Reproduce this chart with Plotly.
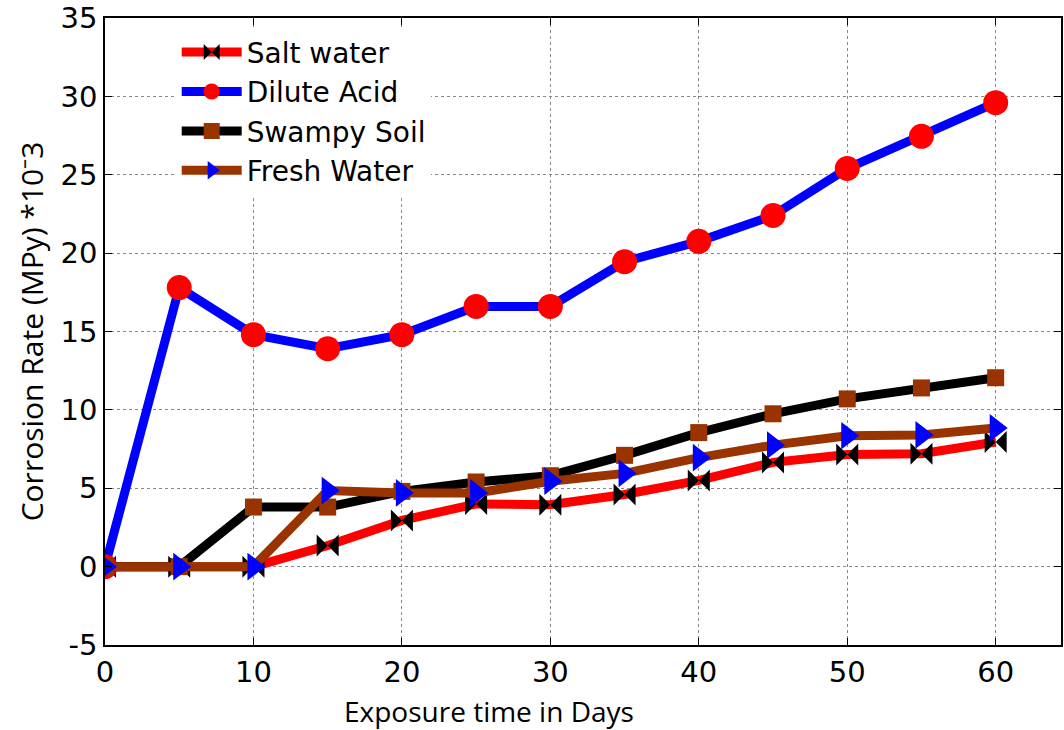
import plotly.graph_objects as go

days = [0, 5, 10, 15, 20, 25, 30, 35, 40, 45, 50, 55, 60]
salt_water = [0, 0, 0, 1.35, 2.95, 4.0, 3.95, 4.6, 5.5, 6.65, 7.15, 7.2, 7.95]
dilute_acid = [0, 17.8, 14.8, 13.9, 14.8, 16.6, 16.6, 19.45, 20.75, 22.4, 25.4, 27.45, 29.6]
swampy_soil = [0, 0, 3.8, 3.8, 4.8, 5.4, 5.8, 7.1, 8.55, 9.75, 10.7, 11.4, 12.05]
fresh_water = [0, 0, 0, 4.85, 4.7, 4.7, 5.45, 5.95, 6.95, 7.75, 8.35, 8.4, 8.85]

x_ticks = [0, 10, 20, 30, 40, 50, 60]
y_ticks = [-5, 0, 5, 10, 15, 20, 25, 30, 35]
y_tick_text = ["-5", "0", "5", "10", "15", "20", "25", "30", "35"]

fig = go.Figure()
fig.add_trace(go.Scatter(x=days, y=salt_water, name="Salt water", mode="lines+markers",
                         line=dict(color="#ff0000", width=9),
                         marker=dict(symbol="bowtie", size=22, color="black",
                                     line=dict(width=0))))
fig.add_trace(go.Scatter(x=days, y=dilute_acid, name="Dilute Acid", mode="lines+markers",
                         line=dict(color="#0000ff", width=9),
                         marker=dict(symbol="circle", size=25, color="#ff0000",
                                     line=dict(width=0))))
fig.add_trace(go.Scatter(x=days, y=swampy_soil, name="Swampy Soil", mode="lines+markers",
                         line=dict(color="#000000", width=9),
                         marker=dict(symbol="square", size=17, color="#993300",
                                     line=dict(width=0))))
fig.add_trace(go.Scatter(x=days, y=fresh_water, name="Fresh Water", mode="lines+markers",
                         line=dict(color="#993300", width=9),
                         marker=dict(symbol="triangle-right", size=24, color="#0000ff",
                                     line=dict(width=0))))

axis_common = dict(
    showline=True, linecolor="black", linewidth=1.5, mirror="ticks",
    ticks="inside", ticklen=7, tickcolor="black",
    showgrid=True, gridcolor="#888888", griddash="dot", gridwidth=1,
    zeroline=False,
    tickfont=dict(family="DejaVu Sans", size=29, color="black"),
)

fig.update_layout(
    width=1064, height=730,
    margin=dict(l=105, r=1, t=18, b=85),
    paper_bgcolor="white", plot_bgcolor="white",
    xaxis=dict(range=[0, 64.4], tickvals=x_ticks, **axis_common),
    yaxis=dict(range=[-5, 35], tickvals=y_ticks, ticktext=y_tick_text,
               title=dict(text="Corrosion Rate (MPy) *10⁻3", standoff=8,
                          font=dict(family="Open Sans", size=30, color="black")),
               **axis_common),
    legend=dict(x=0.075, y=0.985, xanchor="left", yanchor="top",
                bgcolor="white", borderwidth=0, itemwidth=60,
                font=dict(family="DejaVu Sans", size=28, color="black"),
                tracegroupgap=0),
    showlegend=True,
    annotations=[dict(text="Exposure time in Days", xref="paper", yref="paper",
                      x=0.402, y=-0.105, xanchor="center", yanchor="middle",
                      showarrow=False,
                      font=dict(family="Open Sans", size=28, color="black"))],
)

fig.write_html("out.html")
